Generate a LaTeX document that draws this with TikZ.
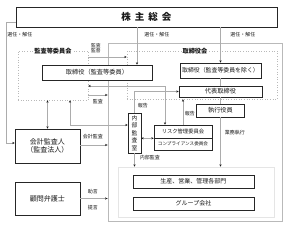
\documentclass[tikz,border=0pt]{standalone}
\usepackage{fontspec}
\setmainfont{Noto Sans CJK JP}
\usetikzlibrary{arrows.meta}

\begin{document}
\begin{tikzpicture}[x=1pt,y=-1pt]
\useasboundingbox (0,0) rectangle (293,233);
\tikzstyle{box}=[draw=gray!30!black, fill=white, line width=0.6pt, inner sep=0pt,
                 text=gray!20!black, font=\fontsize{6.2}{7.5}\selectfont]
\tikzstyle{area}=[draw=gray!55, dotted, line width=0.6pt, inner sep=0pt]
\tikzstyle{lbl}=[inner sep=0.5pt, text=gray!20!black, font=\fontsize{5}{6}\selectfont]
\tikzstyle{hd}=[fill=white, inner sep=1pt, text=gray!20!black, font=\fontsize{6.2}{7}\selectfont\bfseries]
\tikzstyle{ln}=[draw=gray!65, line width=0.6pt]
\tikzstyle{arr}=[ln, -{Stealth[length=2.4pt,width=2.2pt,color=gray!20!black]}]
\tikzstyle{both}=[ln, {Stealth[length=2.4pt,width=2.2pt,color=gray!20!black]}-{Stealth[length=2.4pt,width=2.2pt,color=gray!20!black]}]

\node[draw=gray!55, line width=0.9pt, minimum width=174pt, minimum height=178pt, inner sep=0pt] (company) at (195,132) {};
\node[draw=gray!20, line width=0.6pt, minimum width=156pt, minimum height=50pt, inner sep=0pt] (dept) at (196,192) {};
\node[area, minimum width=70pt, minimum height=49pt] (acc) at (53,75.5) {};
\node[hd] (acchd) at (acc.north) {監査等委員会};
\node[area, minimum width=150pt, minimum height=48pt] (board) at (202,75) {};
\node[hd] (boardhd) at ([xshift=-7pt]board.north) {取締役会};

\node[box, minimum width=261pt, minimum height=20pt, font=\fontsize{9.5}{10}\selectfont\bfseries] (gm) at (146.5,17) {株\hspace{4pt}主\hspace{4pt}総\hspace{4pt}会};
\node[box, minimum width=110pt, minimum height=15pt] (dira) at (97,72.5) {取締役（監査等委員）};
\node[box, minimum width=81pt, minimum height=15pt, font=\fontsize{5.9}{7}\selectfont] (dirb) at (220.5,70.5) {取締役（監査等委員を除く）};
\node[box, minimum width=83pt, minimum height=11pt] (ceo) at (220.5,91.5) {代表取締役};
\node[box, minimum width=48pt, minimum height=13pt] (exec) at (220.5,110.5) {執行役員};
\node[box, minimum width=58pt, minimum height=13pt, font=\fontsize{5.3}{6}\selectfont] (risk) at (183,131.5) {リスク管理委員会};
\node[box, minimum width=58pt, minimum height=12pt, font=\fontsize{4.6}{6}\selectfont] (comp) at (183,144) {コンプライアンス委員会};
\node[box, minimum width=13pt, minimum height=40pt, align=center, font=\fontsize{5.8}{7.5}\selectfont] (audit) at (134.5,133) {内\\部\\監\\査\\室};
\node[box, minimum width=121pt, minimum height=13pt, font=\fontsize{6}{7}\selectfont] (ops) at (193.5,181.5) {生産、営業、管理各部門};
\node[box, minimum width=121pt, minimum height=13pt, font=\fontsize{6}{7}\selectfont] (group) at (193.5,203.5) {グループ会社};
\node[box, minimum width=65pt, minimum height=34pt, align=center, font=\fontsize{7}{8.5}\selectfont] (cpa) at (47.5,146) {会計監査人\\（監査法人）};
\node[box, minimum width=65pt, minimum height=33pt, font=\fontsize{7}{8.5}\selectfont] (law) at (47.5,198.5) {顧問弁護士};

\draw[arr] (gm.south -| 137,0) -- (dira.north -| 137,0);
\draw[arr] (gm.south -| 220.5,0) -- (dirb.north);
\draw[arr] (gm.west |- 0,22) -- ++(-9,0) |- (cpa.west |- 0,143);
\draw[arr] (acc.east |- 0,57) -- (board.west |- 0,57);
\draw[arr] (acc.east |- 0,95) -- (company.west |- 0,95);
\draw[both] (acc.east |- 0,86) -| (risk.north -| 165,0);
\draw[arr] (audit.north) |- (ceo.west);
\draw[arr] (risk.north) -- (board.south -| risk.north);
\draw[ln] (dirb.south) -- (ceo.north);
\draw[ln] (ceo.south) -- (exec.north);
\draw[arr] (exec.south) -- (dept.north -| exec.south);
\draw[arr] (audit.south) -- (dept.north -| audit.south);
\draw[both] (risk.south west) -- (audit.east |- risk.south west);
\draw[both] (acc.south -| cpa.north) -- (cpa.north);
\draw[both] (acc.south -| 70,0) |- (audit.west |- 0,125);
\draw[arr] (cpa.east |- 0,145) -- (company.west |- 0,145);
\draw[arr] (law.east) -- (company.west |- law.east);

\node[lbl] (l1) at (20,35) {選任・解任};
\node[lbl] (l2) at (157,35) {選任・解任};
\node[lbl] (l3) at (243,35) {選任・解任};
\node[lbl, align=center, font=\fontsize{4.8}{5.5}\selectfont] (l4) at (96,48) {監査\\監督};
\node[lbl] (l5) at (98,102) {監査};
\node[lbl] (l6) at (143,106) {報告};
\node[lbl] (l7) at (190,114) {報告};
\node[lbl] (l8) at (235,133) {業務執行};
\node[lbl] (l9) at (150,158) {内部監査};
\node[lbl] (l10) at (93,137) {会計監査};
\node[lbl] (l11) at (93,192) {助言};
\node[lbl] (l12) at (93,208) {提言};
\end{tikzpicture}
\end{document}
